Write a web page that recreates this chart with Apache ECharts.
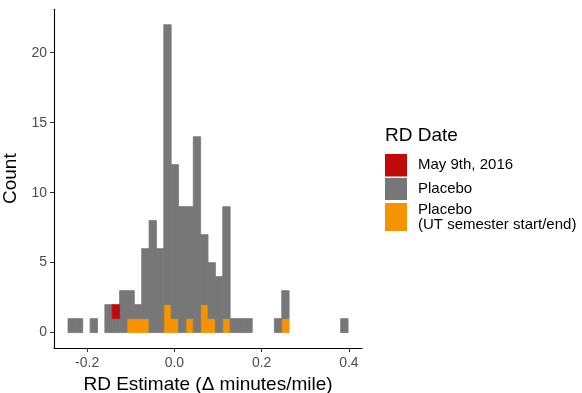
<!DOCTYPE html>
<html>
<head>
<meta charset="utf-8">
<script src="https://cdn.jsdelivr.net/npm/echarts@6/dist/echarts.min.js"></script>
<style>
  html, body { margin: 0; padding: 0; background: #ffffff; }
  #chart { width: 582px; height: 393px; }
</style>
</head>
<body>
<div id="chart"></div>
<script>
// Histogram bins (RD estimate, minutes/mile)
const binStart = -0.2438;
const binWidth = 0.01689;
// counts per bin, by group
const placeboUT   = [0,0,0,0,0,0,0,0,1,1,1,0,0,2,1,0,1,0,2,1,0,1,0,0,0,0,0,0,0,1,0,0,0,0,0,0,0,0];
const placebo     = [1,1,0,1,0,2,1,3,2,1,5,8,6,20,11,9,8,14,5,4,4,8,1,1,1,0,0,0,1,2,0,0,0,0,0,0,0,1];
const may9        = [0,0,0,0,0,0,1,0,0,0,0,0,0,0,0,0,0,0,0,0,0,0,0,0,0,0,0,0,0,0,0,0,0,0,0,0,0,0];
const xTicks = [-0.2, 0.0, 0.2, 0.4];
const yTicks = [0, 5, 10, 15, 20];
const seriesNames = ['May 9th, 2016', 'Placebo', 'Placebo\n(UT semester start/end)'];
const colors = ['#c00a0a', '#777777', '#f59300'];

// stacked: UT at bottom, Placebo in middle, May 9th on top
function build(vals, bases) {
  const out = [];
  vals.forEach((v, i) => {
    if (v > 0) {
      const x0 = binStart + i * binWidth;
      out.push([x0, x0 + binWidth, bases[i], bases[i] + v]);
    }
  });
  return out;
}
const base0 = placeboUT.map(() => 0);
const base1 = placeboUT.slice();
const base2 = placeboUT.map((v, i) => v + placebo[i]);

const dataUT = build(placeboUT, base0);
const dataPl = build(placebo, base1);
const dataMay = build(may9, base2);

function makeRender(color) {
  return function (params, api) {
    const p0 = api.coord([api.value(0), api.value(3)]);
    const p1 = api.coord([api.value(1), api.value(2)]);
    return {
      type: 'rect',
      shape: { x: p0[0], y: p0[1], width: p1[0] - p0[0], height: p1[1] - p0[1] },
      style: { fill: color, stroke: color, lineWidth: 0.8 }
    };
  };
}

const font = 'Liberation Sans, Arial, sans-serif';
const chart = echarts.init(document.getElementById('chart'), null, { renderer: 'canvas' });

function legendAt(name, top, h) {
  return {
    data: [name], left: 385, top: top, orient: 'vertical', padding: 0,
    itemWidth: 22, itemHeight: h, icon: 'rect', selectedMode: false,
    textStyle: { fontFamily: font, fontSize: 15, color: '#000', lineHeight: 15, padding: [0, 0, 0, 6] }
  };
}

chart.setOption({
  animation: false,
  backgroundColor: '#ffffff',
  grid: { left: 54, right: 220, top: 9.3, bottom: 45, containLabel: false, outerBoundsMode: 'none' },
  legend: [
    legendAt(seriesNames[0], 154, 22.5),
    legendAt(seriesNames[1], 178, 22),
    legendAt(seriesNames[2], 202, 28)
  ],
  graphic: [{
    type: 'text', left: 385, top: 126,
    style: { text: 'RD Date', fontFamily: font, fontSize: 19, fill: '#000' }
  }],
  xAxis: {
    type: 'value', min: -0.2759, max: 0.430,
    name: 'RD Estimate (Δ minutes/mile)', nameLocation: 'middle', nameGap: 24,
    nameTextStyle: { fontFamily: font, fontSize: 19, color: '#000' },
    axisLine: { onZero: false, lineStyle: { color: '#000', width: 1.1 } },
    axisTick: { show: true, length: 4, customValues: xTicks, lineStyle: { color: '#333' } },
    axisLabel: { customValues: xTicks, margin: 8, fontFamily: font, fontSize: 14, color: '#4d4d4d',
      formatter: v => v.toFixed(1) },
    splitLine: { show: false }
  },
  yAxis: {
    type: 'value', min: -1.1, max: 23.1,
    name: 'Count', nameLocation: 'middle', nameGap: 26,
    nameTextStyle: { fontFamily: font, fontSize: 19, color: '#000' },
    axisLine: { show: true, onZero: false, lineStyle: { color: '#000', width: 1.1 } },
    axisTick: { show: true, length: 4, customValues: yTicks, lineStyle: { color: '#333' } },
    axisLabel: { customValues: yTicks, margin: 7, fontFamily: font, fontSize: 14, color: '#4d4d4d' },
    splitLine: { show: false }
  },
  series: [
    { name: seriesNames[2], type: 'custom', renderItem: makeRender(colors[2]), data: dataUT, encode: { x: [0, 1], y: [2, 3] },
      itemStyle: { color: colors[2] } },
    { name: seriesNames[1], type: 'custom', renderItem: makeRender(colors[1]), data: dataPl, encode: { x: [0, 1], y: [2, 3] },
      itemStyle: { color: colors[1] } },
    { name: seriesNames[0], type: 'custom', renderItem: makeRender(colors[0]), data: dataMay, encode: { x: [0, 1], y: [2, 3] },
      itemStyle: { color: colors[0] } }
  ]
});
</script>
</body>
</html>
